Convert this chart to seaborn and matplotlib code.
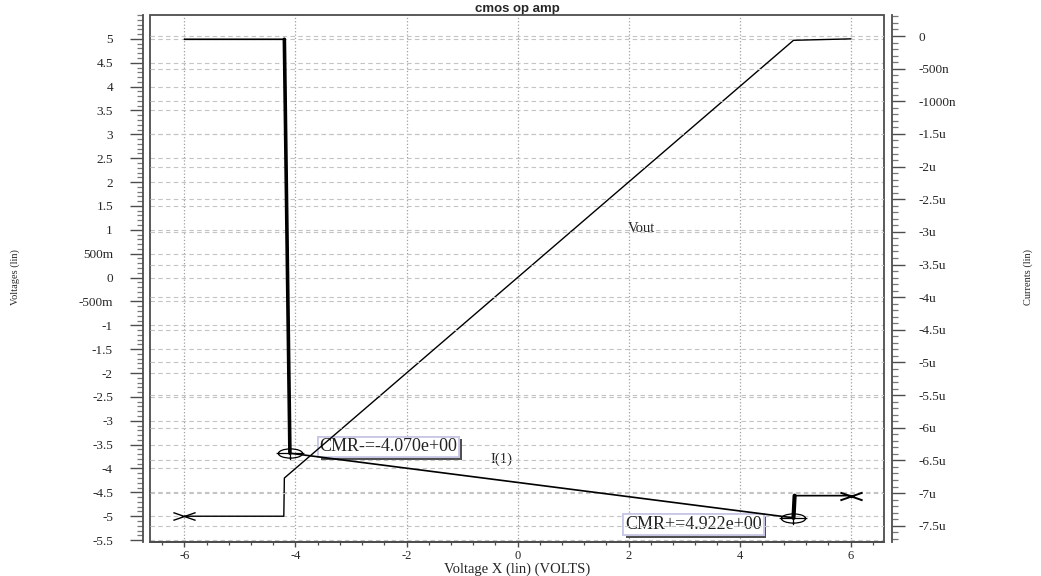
import numpy as np
import matplotlib
matplotlib.use("Agg")
import matplotlib.pyplot as plt
import matplotlib.patheffects as pe
from matplotlib.path import Path
from matplotlib.patches import Rectangle
from matplotlib.ticker import MultipleLocator
import seaborn as sns

# sweep data
vin_vout = [-6.0, -4.21, -4.20, 4.97, 6.0]
vout = [-5.0, -5.0, -4.20, 4.97, 5.0]

vin_i1 = [-6.0, -4.20, -4.10, 4.97, 4.99, 6.0]
i1 = [-0.05e-6, -0.05e-6, -6.39e-6, -7.38e-6, -7.04e-6, -7.04e-6]

cmr_labels = ["CMR-=-4.070e+00", "CMR+=4.922e+00"]

x_ticks = [-6, -4, -2, 0, 2, 4, 6]
left_ticks = [5, 4.5, 4, 3.5, 3, 2.5, 2, 1.5, 1, 0.5, 0, -0.5, -1, -1.5,
              -2, -2.5, -3, -3.5, -4, -4.5, -5, -5.5]
left_labels = ["5", "4.5", "4", "3.5", "3", "2.5", "2", "1.5", "1", "500m", "0",
               "-500m", "-1", "-1.5", "-2", "-2.5", "-3", "-3.5", "-4", "-4.5",
               "-5", "-5.5"]
right_ticks = [0, -0.5e-6, -1e-6, -1.5e-6, -2e-6, -2.5e-6, -3e-6, -3.5e-6, -4e-6,
               -4.5e-6, -5e-6, -5.5e-6, -6e-6, -6.5e-6, -7e-6, -7.5e-6]
right_labels = ["0", "-500n", "-1000n", "-1.5u", "-2u", "-2.5u", "-3u", "-3.5u",
                "-4u", "-4.5u", "-5u", "-5.5u", "-6u", "-6.5u", "-7u", "-7.5u"]

sns.set_style("ticks")
plt.rcParams["font.family"] = ["Liberation Serif", "DejaVu Serif"]

W, H = 1041, 576
fig = plt.figure(figsize=(W / 100, H / 100), dpi=100)
ax = fig.add_axes([150 / W, 1 - 542 / H, (884 - 150) / W, (542 - 15) / H])
ax2 = ax.twinx()
ax.set_facecolor("none")
ax2.set_facecolor("none")

spine_col = "#4d4d4d"
grid_col = "#c4c4c4"

# marker shapes: flattened X and flattened circle with cross-hair
x_path = Path([[-1, -0.35], [1, 0.35], [-1, 0.35], [1, -0.35]],
              [Path.MOVETO, Path.LINETO, Path.MOVETO, Path.LINETO])
ell = Path.unit_circle().transformed(matplotlib.transforms.Affine2D().scale(1, 0.38))
circ_path = Path.make_compound_path(
    ell,
    Path([[-1.15, 0], [1.15, 0]], [Path.MOVETO, Path.LINETO]),
    Path([[0, 0], [0, -0.55]], [Path.MOVETO, Path.LINETO]))

# limits first so the annotation boxes land in the right place
ax.set_xlim(-6.62, 6.6)
ax.set_ylim(-5.54, 5.5)
ax2.set_ylim(-7.75e-6, 0.322e-6)

# CMR annotations, drawn on the lower axes so the curves sit above the boxes
offs = [(71, 4.6), (-72, -5.0)]
for k, idx in enumerate([2, 3]):
    t = ax.annotate(cmr_labels[k], (vin_i1[idx], i1[idx]), xycoords=ax2.transData,
                    xytext=offs[k], textcoords="offset points", ha="center",
                    va="center", fontsize=13, color="#222222", zorder=1,
                    bbox=dict(boxstyle="square,pad=0.1", fc="white",
                              ec="#c8c8e6", lw=1.3))
    t.get_bbox_patch().set_path_effects(
        [pe.withSimplePatchShadow(offset=(2, -2), shadow_rgbFace="#505050", alpha=1.0),
         pe.Normal()])

# Vout on the voltage axis
sns.lineplot(x=vin_vout, y=vout, sort=False, color="black", lw=1.0, ax=ax, zorder=3)
ax.plot(vin_vout[:1], vout[:1], ls="none", marker=x_path, ms=16, mec="black", mew=1.0)

# I(1) on the current axis, steep parts drawn heavier
sns.lineplot(x=vin_i1, y=i1, sort=False, color="black", lw=1.2, ax=ax2)
sns.lineplot(x=vin_i1[1:3], y=i1[1:3], sort=False, color="black", lw=2.6, ax=ax2)
sns.lineplot(x=vin_i1[3:5], y=i1[3:5], sort=False, color="black", lw=3.0, ax=ax2)
ax2.plot(vin_i1[-1:], i1[-1:], ls="none", marker=x_path, ms=16, mec="black", mew=1.4)
ax2.plot([vin_i1[2], vin_i1[3]], [i1[2], i1[3]], ls="none", marker=circ_path, ms=20,
         mfc="none", mec="black", mew=0.9)

ax.text(2.23, 1.02, "Vout", fontsize=10.5, ha="center", va="center")
ax.text(-0.29, -3.80, "I(1)", fontsize=10.5, ha="center", va="center")

# ticks
ax.set_xticks(x_ticks, [str(v) for v in x_ticks])
ax.xaxis.set_minor_locator(MultipleLocator(0.4))
ax.set_yticks(left_ticks, left_labels)
ax.yaxis.set_minor_locator(MultipleLocator(0.1))
ax2.set_yticks(right_ticks, right_labels)
ax2.yaxis.set_minor_locator(MultipleLocator(0.1e-6))

ax.tick_params(axis="y", which="major", direction="out", length=9.4, width=1,
               color=spine_col, pad=12, labelsize=9.5)
ax.tick_params(axis="y", which="minor", direction="out", length=4.3, width=0.9,
               color="#777777")
ax.tick_params(axis="x", which="major", direction="out", length=3.8, width=1,
               color=spine_col, pad=2, labelsize=9, top=False)
ax.tick_params(axis="x", which="minor", direction="out", length=2.2, width=0.9,
               color=spine_col, top=False)
ax2.tick_params(axis="y", which="major", direction="out", length=9.4, width=1,
                color=spine_col, pad=10, labelsize=9.5)
ax2.tick_params(axis="y", which="minor", direction="out", length=4.3, width=0.9,
                color="#777777")

# spines: offset left and right axes, frame around the plot area
for s in ["top", "right"]:
    ax.spines[s].set_visible(False)
for s in ["top", "left", "bottom"]:
    ax2.spines[s].set_visible(False)
ax.spines["left"].set_position(("outward", 5.3))
ax2.spines["right"].set_position(("outward", 5.5))
for sp in [ax.spines["left"], ax.spines["bottom"], ax2.spines["right"]]:
    sp.set_color(spine_col)
    sp.set_linewidth(1.3)
ax.add_patch(Rectangle((0, 0), 1, 1, transform=ax.transAxes, fill=False,
                       ec=spine_col, lw=1.3, clip_on=False, zorder=5))

# grids
ax.grid(axis="x", ls=":", color="#a0a0a0", lw=0.9)
ax.grid(axis="y", ls=(0, (4, 3)), color=grid_col, lw=0.8)
ax2.grid(axis="y", ls=(0, (4, 3)), color=grid_col, lw=0.8)
ax.set_axisbelow(True)

ax.set_title("cmos op amp", fontsize=9.5, fontweight="bold",
             family=["Liberation Sans", "DejaVu Sans"], pad=0.5)
fig.text(517 / W, 1 - 569 / H, "Voltage X (lin) (VOLTS)", fontsize=10.5,
         ha="center", va="center")
fig.text(15 / W, 1 - 277 / H, "Voltages (lin)", fontsize=7.5, rotation=90,
         ha="center", va="center")
fig.text(1028 / W, 1 - 277 / H, "Currents (lin)", fontsize=7.5, rotation=90,
         ha="center", va="center")

fig.savefig("out.png", dpi=100)
